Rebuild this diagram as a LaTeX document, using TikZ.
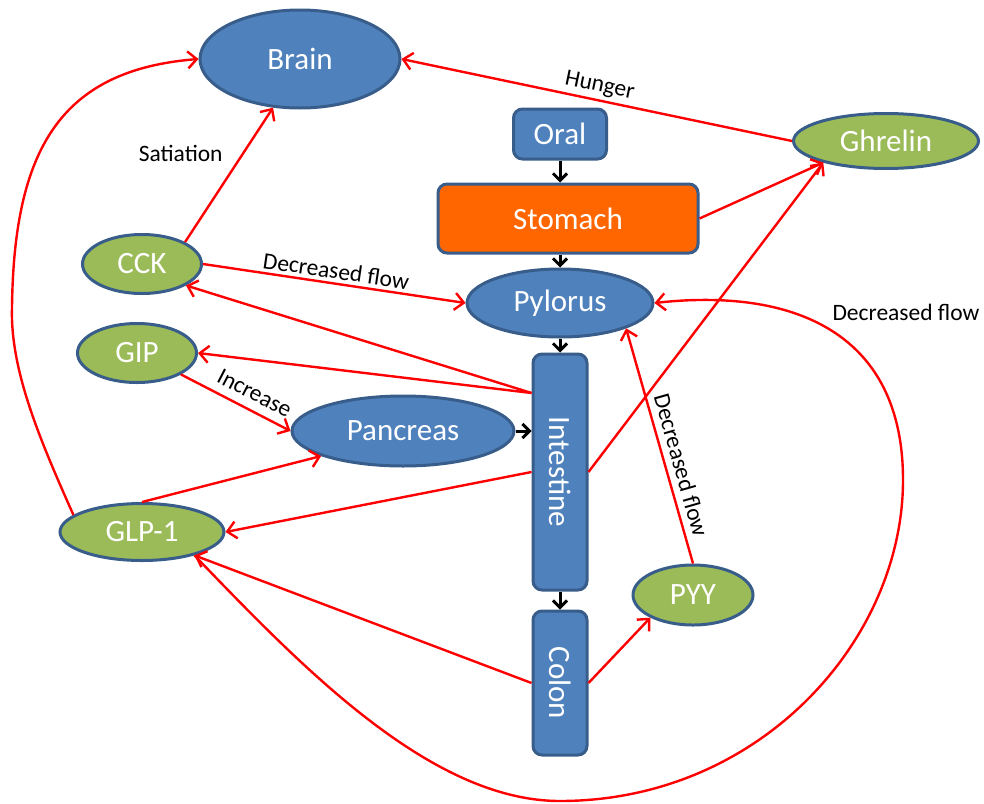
\documentclass[tikz,border=0pt]{standalone}
\usepackage{fontspec}
\setmainfont{Carlito}
\usetikzlibrary{arrows.meta, positioning, shapes.geometric}

\definecolor{nodeblue}{HTML}{4F81BD}
\definecolor{edgeblue}{HTML}{385D8A}
\definecolor{hormgreen}{HTML}{9BBB59}
\definecolor{stomachorange}{HTML}{FF6600}

\begin{document}
\begin{tikzpicture}[
  x=1pt, y=1pt,
  font=\fontsize{31}{37}\selectfont,
  organ/.style={draw=edgeblue, line width=3pt, fill=nodeblue, text=white, rectangle, rounded corners=9pt, inner sep=0pt},
  site/.style={draw=edgeblue, line width=3pt, fill=nodeblue, text=white, ellipse, inner sep=0pt},
  hormone/.style={draw=edgeblue, line width=3pt, fill=hormgreen, text=white, ellipse, inner sep=0pt},
  signal/.style={draw=red, line width=2.4pt, -{Straight Barb[length=9pt, width=17pt]}},
  flow/.style={draw=black, line width=3pt, -{Straight Barb[length=7pt, width=14pt]}},
  lbl/.style={font=\fontsize{23.5}{28}\selectfont, text=black}
]
  \useasboundingbox (0,0) rectangle (984,-803);

  % Verdauungstrakt
  \node[organ, minimum width=93pt, minimum height=50pt] (oral) at (560,-134) {Oral};
  \node[organ, fill=stomachorange, minimum width=260pt, minimum height=69pt, below=22pt of oral, xshift=8pt] (stomach) {Stomach};
  \node[site, minimum width=186pt, minimum height=68pt, below=13pt of stomach, xshift=-8pt] (pylorus) {Pylorus};
  \node[organ, minimum width=54pt, minimum height=236pt, below=14pt of pylorus] (intestine) {\rotatebox{-90}{Intestine}};
  \node[organ, minimum width=54pt, minimum height=144pt, below=18pt of intestine] (colon) {\rotatebox{-90}{Colon}};

  % Brain, Pancreas und Hormone
  \node[site, minimum width=200pt, minimum height=98pt] (brain) at (300,-59) {Brain};
  \node[site, minimum width=222pt, minimum height=70pt] (pancreas) at (403,-431) {Pancreas};
  \node[hormone, minimum width=185pt, minimum height=55pt] (ghrelin) at (886,-141) {Ghrelin};
  \node[hormone, minimum width=119pt, minimum height=59pt] (cck) at (142,-264) {CCK};
  \node[hormone, minimum width=119pt, minimum height=59pt] (gip) at (137,-353) {GIP};
  \node[hormone, minimum width=164pt, minimum height=57pt] (glp) at (142,-532) {GLP-1};
  \node[hormone, minimum width=120pt, minimum height=60pt] (pyy) at (693,-595) {PYY};

  % Passage
  \draw[flow] (oral.south) -- (oral.south |- stomach.north);
  \draw[flow] (pylorus.north |- stomach.south) -- (pylorus.north);
  \draw[flow] (pylorus.south) -- (intestine.north);
  \draw[flow] (pancreas.east) -- (pancreas.east -| intestine.west);
  \draw[flow] (intestine.south) -- (colon.north);

  % Signale
  \draw[signal] (cck.27) -- node[lbl, pos=0.66, left=16pt] {Satiation} (brain.241);
  \draw[signal] (ghrelin.west) -- node[lbl, above, sloped] {Hunger} (brain.east);
  \draw[signal] (stomach.east) -- (ghrelin.199);
  \draw[signal] (intestine.east) -- (ghrelin.199);
  \draw[signal] (cck.east) -- node[lbl, above, sloped] {Decreased flow} (pylorus.west);
  \draw[signal] ([yshift=79pt]intestine.west) -- (cck.-26);
  \draw[signal] ([yshift=79pt]intestine.west) -- (gip.east);
  \draw[signal] (gip.-26) -- node[lbl, above=5pt, sloped, pos=0.6] {Increase} (pancreas.west);
  \draw[signal] (glp.north) -- (pancreas.197);
  \draw[signal] (intestine.west) -- (glp.east);
  \draw[signal] (glp.166) .. controls (40,-440) and (10,-370) .. (12,-307)
    .. controls (14,-150) and (60,-70) .. (brain.west);
  \draw[signal] (colon.west) -- (glp.-24);
  \draw[signal] (colon.east) -- (pyy.208);
  \draw[signal] (pyy.north) -- node[lbl, above=3pt, sloped, pos=0.4] {Decreased flow} (pylorus.-21);
  \draw[signal] (glp.-24) .. controls (300,-665) and (430,-801) .. (560,-801)
    .. controls (760,-801) and (903,-640) .. (903,-480)
    .. controls (903,-330) and (790,-288) .. (pylorus.east);
  \node[lbl] (loopflow) at (906,-312) {Decreased flow};

\end{tikzpicture}
\end{document}
